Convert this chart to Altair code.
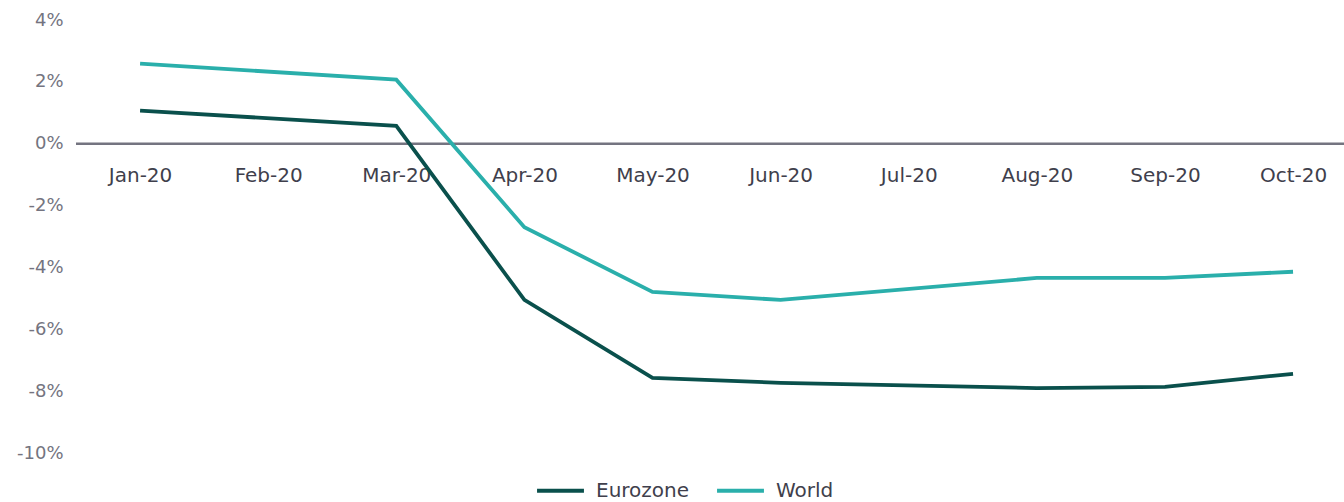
import altair as alt
import pandas as pd

# Monthly change, % (None = no observation plotted for that month)
months = ["Jan-20", "Feb-20", "Mar-20", "Apr-20", "May-20",
          "Jun-20", "Jul-20", "Aug-20", "Sep-20", "Oct-20"]
eurozone = [1.07, None, 0.58, -5.05, -7.57, -7.73, None, -7.90, -7.86, -7.44]
world = [2.59, None, 2.07, -2.70, -4.79, -5.05, None, -4.34, -4.34, -4.14]

series_names = ["Eurozone", "World"]
series_colors = ["#0a504c", "#2aafab"]

rows = []
for name, vals in zip(series_names, [eurozone, world]):
    for i, (m, v) in enumerate(zip(months, vals)):
        if v is not None:
            rows.append({"month": m, "idx": i, "series": name, "value": v})
df = pd.DataFrame(rows)

FONT = "DejaVu Sans"

x = alt.X(
    "month:O",
    sort=months,
    scale=alt.Scale(domain=months, type="point", padding=0.449, align=0.557),
    axis=alt.Axis(
        title=None, orient="bottom", offset=-308, domain=False, ticks=False,
        grid=False, labelAngle=0, labelFontSize=20, labelColor="#3f3f4c",
        labelFont=FONT, labelPadding=20, labelBaseline="top",
    ),
)

y = alt.Y(
    "value:Q",
    scale=alt.Scale(domain=[-10, 4], nice=False, zero=False),
    axis=alt.Axis(
        title=None, values=[4, 2, 0, -2, -4, -6, -8, -10],
        labelExpr="datum.value + '%'", domain=False, ticks=False, grid=False,
        labelFontSize=18, labelColor="#747480", labelFont=FONT, labelPadding=13,
    ),
)

lines = alt.Chart(df).mark_line(strokeWidth=3.8, strokeJoin="miter").encode(
    x=x,
    y=y,
    color=alt.Color(
        "series:N",
        scale=alt.Scale(domain=series_names, range=series_colors),
        legend=alt.Legend(
            title=None, orient="none", legendX=459, legendY=445,
            direction="horizontal", symbolType="stroke", symbolSize=2200,
            symbolStrokeWidth=4, labelFontSize=20, labelColor="#3f3f4c",
            labelFont=FONT, labelOffset=10, columnPadding=19,
        ),
    ),
    order=alt.Order("idx:Q"),
)

zero = alt.Chart(pd.DataFrame({"y": [0]})).mark_rule(
    color="#747480", strokeWidth=2.5
).encode(y=alt.Y("y:Q", scale=alt.Scale(domain=[-10, 4])))

chart = alt.layer(zero, lines).properties(
    width=1268,
    height=433,
    autosize=alt.AutoSizeParams(type="none"),
    padding={"left": 76, "top": 20, "right": 0, "bottom": 49},
).configure(background="white").configure_view(stroke=None)

chart.save("out.html", embed_options={"renderer": "svg", "actions": False})
